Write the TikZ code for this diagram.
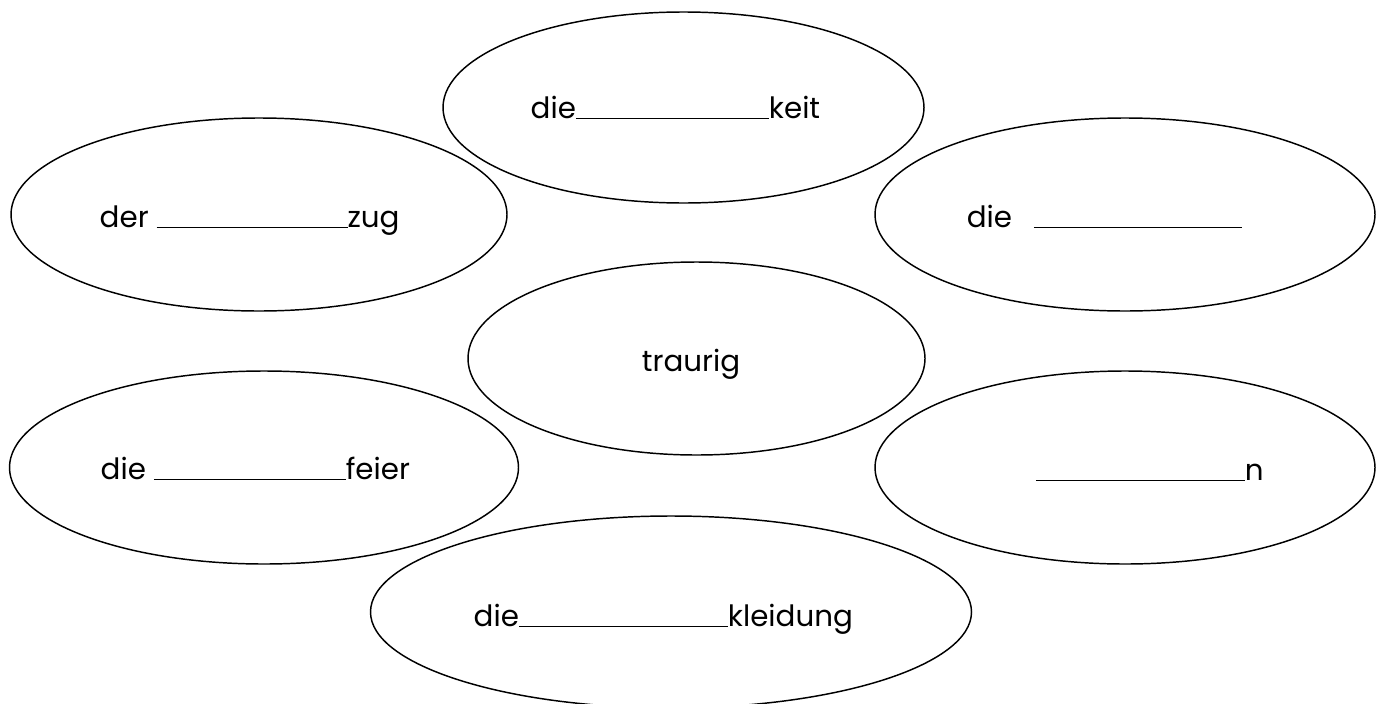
\documentclass[tikz,border=0pt]{standalone}
\usepackage{fontspec}
\setmainfont{Poppins}
\usepackage{tikz}
\newcommand{\gap}[1]{\rule[-0.9pt]{#1}{0.9pt}}

\begin{document}
\begin{tikzpicture}[x=0.75pt, y=-0.75pt, line width=1.1pt,
		word/.style={anchor=base west, inner sep=0pt, font=\fontsize{22}{26}\selectfont}]
		\useasboundingbox (0,0) rectangle (1376,703);
		% Coordinates
		\coordinate (C_keit) at (683.5, 107.5);
		\coordinate (C_zug) at (259, 214.5);
		\coordinate (C_die) at (1125, 214.5);
		\coordinate (C_traurig) at (696.5, 358.5);
		\coordinate (C_feier) at (264, 467.5);
		\coordinate (C_n) at (1125, 467.5);
		\coordinate (C_kleidung) at (671, 612);
		
		% Draw ellipses
		\foreach \c/\rx/\ry in {keit/240.5/95.5, zug/248/96.5, die/250/96.5, traurig/228.5/96.5, feier/254.5/96.5, n/250/96.5, kleidung/300.5/96}
			\draw (C_\c) ellipse [x radius=\rx, y radius=\ry];
		
		% Words
		\node[word] (W_keit) at (530, 118) {die\gap{144.75pt}keit};
		\node[word] (W_zug) at (99, 227) {der \gap{143.25pt}zug};
		\node[word] (W_die) at (966, 227) {die\hspace{0.75em}\gap{156pt}};
		\node[word, anchor=base] (W_traurig) at (691, 371) {traurig};
		\node[word] (W_feier) at (100, 479) {die \gap{144pt}feier};
		\node[word] (W_n) at (1035, 480) {\gap{156.75pt}n};
		\node[word] (W_kleidung) at (473, 626) {die\gap{156.75pt}kleidung};
\end{tikzpicture}
\end{document}
